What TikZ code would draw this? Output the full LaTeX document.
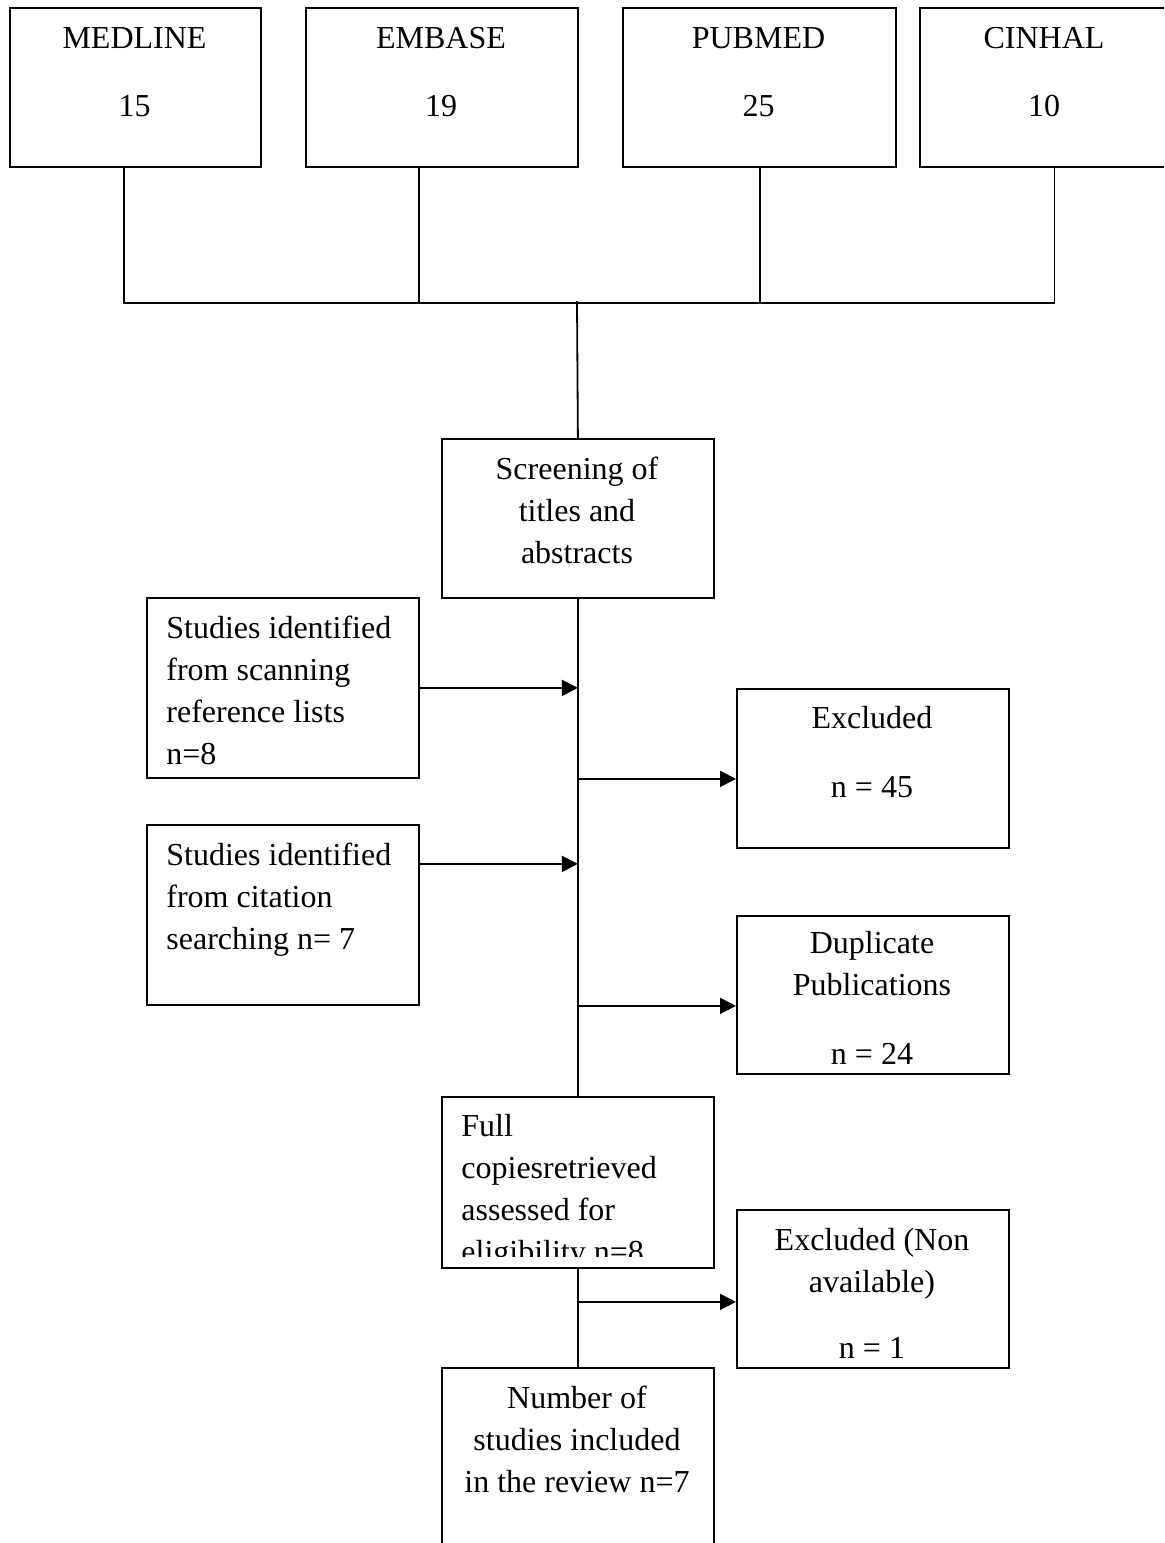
\documentclass[tikz,border=0pt]{standalone}
\usepackage{fontspec}
\setmainfont{Liberation Serif}
\usetikzlibrary{arrows.meta}
\tikzset{
  bx/.style={draw, line width=0.9pt, inner sep=0pt, anchor=north west},
  txt/.style={inner sep=0pt, anchor=base, font=\fontsize{16}{21}\selectfont},
  ltxt/.style={txt, anchor=base west},
  conn/.style={line width=0.9pt},
  arr/.style={conn, -{Triangle[length=8pt,width=8pt]}}
}
\begin{document}
\begin{tikzpicture}[x=0.5pt,y=-0.5pt]
\useasboundingbox (0,0) rectangle (1165,1543);
\clip (0,0) rectangle (1165,1543);
\fill[white] (0,0) rectangle (1165,1543);
% boxes
\node[bx, minimum width=125.5pt, minimum height=79.5pt] (med) at (9,7) {};
\node[bx, minimum width=136pt, minimum height=79.5pt] (emb) at (305,7) {};
\node[bx, minimum width=136.5pt, minimum height=79.5pt] (pub) at (622,7) {};
\node[bx, minimum width=126pt, minimum height=79.5pt] (cin) at (919,7) {};
\node[bx, minimum width=136pt, minimum height=79.5pt] (screen) at (441,438) {};
\node[bx, minimum width=136pt, minimum height=90pt] (s1) at (146,597) {};
\node[bx, minimum width=136pt, minimum height=79.5pt] (ex1) at (736,688) {};
\node[bx, minimum width=136pt, minimum height=90pt] (s2) at (146,824) {};
\node[bx, minimum width=136pt, minimum height=79pt] (ex2) at (736,915) {};
\node[bx, minimum width=136pt, minimum height=85.5pt] (full) at (441,1096) {};
\node[bx, minimum width=136pt, minimum height=79pt] (ex3) at (736,1209) {};
\node[bx, minimum width=136pt, minimum height=100pt] (final) at (441,1367) {};
% cover the right border of the CINHAL box, which lies beyond the page edge
\fill[white] (1164,0) rectangle (1180,200);
% texts
\node[txt] (medt1) at (134.5,48) {MEDLINE};
\node[txt] (medt2) at (134.5,116) {15};
\node[txt] (embt1) at (441,48) {EMBASE};
\node[txt] (embt2) at (441,116) {19};
\node[txt] (pubt1) at (758.5,48) {PUBMED};
\node[txt] (pubt2) at (758.5,116) {25};
\node[txt] (cint1) at (1044,48) {CINHAL};
\node[txt] (cint2) at (1044,116) {10};
\node[txt] (scrt1) at (577,479) {Screening of};
\node[txt] (scrt2) at (577,521) {titles and};
\node[txt] (scrt3) at (577,563) {abstracts};
\node[ltxt] (s1t1) at (166,638) {Studies identified};
\node[ltxt] (s1t2) at (166,680) {from scanning};
\node[ltxt] (s1t3) at (166,722) {reference lists};
\node[ltxt] (s1t4) at (166,764) {n=8};
\node[txt] (ex1t1) at (872,728) {Excluded};
\node[txt] (ex1t2) at (872,797) {n = 45};
\node[ltxt] (s2t1) at (166,865) {Studies identified};
\node[ltxt] (s2t2) at (166,907) {from citation};
\node[ltxt] (s2t3) at (166,949) {searching n= 7};
\node[txt] (ex2t1) at (872,953) {Duplicate};
\node[txt] (ex2t2) at (872,995) {Publications};
\node[txt] (ex2t3) at (872,1064) {n = 24};
\begin{scope}
\clip (441,1096) rectangle (713,1256);
\node[ltxt] (fullt1) at (461,1136) {Full};
\node[ltxt] (fullt2) at (461,1178) {copiesretrieved};
\node[ltxt] (fullt3) at (461,1220) {assessed for};
\node[ltxt] (fullt4) at (461,1262) {eligibility n=8};
\end{scope}
\node[txt] (ex3t1) at (872,1250) {Excluded (Non};
\node[txt] (ex3t2) at (872,1292) {available)};
\node[txt] (ex3t3) at (872,1358) {n = 1};
\node[txt] (fint1) at (577,1408) {Number of};
\node[txt] (fint2) at (577,1450) {studies included};
\node[txt] (fint3) at (577,1492) {in the review n=7};
% connectors top
\coordinate (j) at (577,301);
\draw[conn] ([xshift=-5.75pt]med.south) -- ++(0,135) -| ([xshift=4.25pt]cin.south);
\draw[conn] ([xshift=-11.5pt]emb.south) -- ++(0,135);
\draw[conn] ([xshift=0.25pt]pub.south) -- ++(0,135);
\draw[conn] (j) -- (screen.north);
% central spine
\draw[conn] (screen.south) -- (full.north);
\draw[conn] (full.south) -- (final.north);
% side arrows
\draw[arr] (s1.east) -- (s1.east -| screen.south);
\coordinate (a2) at ([yshift=25.5pt]s2.east);
\draw[arr] (a2) -- (a2 -| screen.south);
\coordinate (b1) at ([yshift=-5.25pt]ex1.west);
\draw[arr] (b1 -| screen.south) -- (b1);
\coordinate (b2) at ([yshift=-5.5pt]ex2.west);
\draw[arr] (b2 -| screen.south) -- (b2);
\coordinate (b3) at ([yshift=-6.5pt]ex3.west);
\draw[arr] (b3 -| full.south) -- (b3);
\end{tikzpicture}
\end{document}
